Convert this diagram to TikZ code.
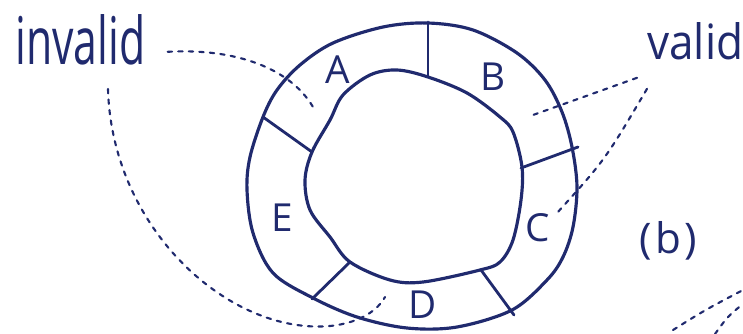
\documentclass[tikz,border=0pt]{standalone}
\usepackage{fontspec}
\setmainfont{Open Sans}
\usepackage{graphicx}
\usetikzlibrary{calc}
\definecolor{inkc}{RGB}{32,42,110}
\tikzset{
  ring/.style={line width=1.8pt,inkc,line join=round},
  wall/.style={line width=1.6pt,inkc,line cap=round},
  seg/.style={text=inkc,font=\fontsize{22}{22}\selectfont,inner sep=0pt},
  word/.style={text=inkc,inner sep=0pt,anchor=base west},
  hint/.style={line width=1.2pt,inkc,dash pattern=on 2.5pt off 3.5pt,line cap=round},
}
\begin{document}
\begin{tikzpicture}[x=0.02cm,y=-0.02cm]
  \useasboundingbox (0,0) rectangle (743,334);
  % outer and inner boundary of the ring
  \draw[ring] plot[smooth cycle,tension=0.55] coordinates {
    (428,23) (473,30) (517,53) (545,80) (562,112) (572,147) (577,187) (573,227)
    (563,257) (547,280) (512,310) (457,327) (407,328) (357,317) (313,298) (273,273)
    (253,233) (247,190) (250,157) (263,117) (277,90) (300,65) (333,43) (383,27)};
  \draw[ring] plot[smooth cycle,tension=0.55] coordinates {
    (397,70) (428,77) (467,93) (500,117) (513,132) (522,167) (521,200) (513,240)
    (500,262) (480,270) (423,282) (390,280) (350,262) (330,237) (310,210) (305,180)
    (312,152) (330,120) (343,95) (370,75)};
  % walls between the segments
  \foreach \n/\ix/\iy/\ox/\oy in {ab/428/77/428/22, bc/521/168/578/147,
                                  cd/481/270/514/315, de/350/262/312/299, ea/312/152/263/117}{
    \coordinate (i\n) at (\ix,\iy); \coordinate (o\n) at (\ox,\oy);
    \draw[wall] (i\n) -- (o\n);}
  % segment names
  \foreach \l/\x/\y in {A/338/70, B/493/77, C/538/228, D/423/305, E/282/218}
    \node[seg] (s\l) at (\x,\y) {\l};
  % labels
  \node[word] (inv) at (15,65) {\resizebox{2.6cm}{1.0cm}{invalid}};
  \node[word] (val) at (647,60) {\resizebox{1.92cm}{0.74cm}{valid}};
  \node[text=inkc,font=\fontsize{24}{24}\selectfont,inner sep=0pt] (fig) at (668,241) {(\kern2pt b\kern2pt)};
  % pointers
  \coordinate (pA) at (313,107);
  \coordinate (pD) at (385,297);
  \coordinate (pB) at (533,115);
  \coordinate (pC) at (557,213);
  \draw[hint] ([xshift=0.44cm,yshift=-0.23cm]inv.east) .. controls (235,48) and (290,68) .. (pA);
  \draw[hint] ([xshift=1.86cm,yshift=-0.46cm]inv.south west) .. controls (112,230) and (230,335) .. (330,326)
    .. controls (360,323) and (378,310) .. (pD);
  \draw[hint] ([xshift=-0.2cm,yshift=-0.34cm]val.south west) -- (pB);
  \draw[hint] ([yshift=-0.56cm]val.south west) .. controls (605,160) .. (pC);
  % strands of the next picture
  \coordinate (nA) at (673,330); \coordinate (nB) at (743,290);
  \coordinate (nC) at (715,334); \coordinate (nD) at (743,304);
  \draw[hint] (nA) .. controls (705,310) .. (nB);
  \draw[hint] (nC) .. controls (728,316) .. (nD);
\end{tikzpicture}
\end{document}
